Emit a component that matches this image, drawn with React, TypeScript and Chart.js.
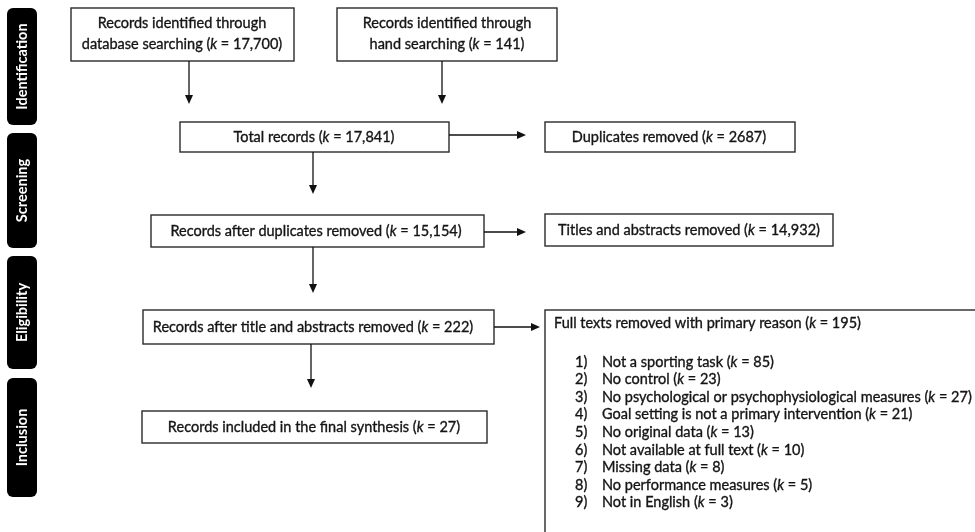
import React, { useEffect, useRef } from "react";
import { Chart, registerables } from "chart.js";

Chart.register(...registerables);

// ---- content ----
const stageNames = ["Identification", "Screening", "Eligibility", "Inclusion"];
const recordLabels = [
  "Records identified through\ndatabase searching",
  "Records identified through\nhand searching",
  "Total records",
  "Duplicates removed",
  "Records after duplicates removed",
  "Titles and abstracts removed",
  "Records after title and abstracts removed",
  "Records included in the final synthesis",
];
const recordCounts = ["17,700", "141", "17,841", "2687", "15,154", "14,932", "222", "27"];
const removedTitle = "Full texts removed with primary reason";
const removedCount = "195";
const reasonLabels = [
  "Not a sporting task",
  "No control",
  "No psychological or psychophysiological measures",
  "Goal setting is not a primary intervention",
  "No original data",
  "Not available at full text",
  "Missing data",
  "No performance measures",
  "Not in English",
];
const reasonCounts = ["85", "23", "27", "21", "13", "10", "8", "5", "3"];

// ---- layout (diagram coordinates) ----
const W = 975;
const H = 532;
const stageBands = [
  [8, 125],
  [133, 248],
  [256, 369],
  [378, 497],
];
const stageX = [7, 37];
const boxes = [
  { x0: 71, y0: 8, x1: 294, y1: 61, tx: 182, ty: [23, 44] },
  { x0: 337, y0: 8, x1: 557, y1: 61, tx: 447, ty: [23, 44] },
  { x0: 180, y0: 122, x1: 449, y1: 152, tx: 314, ty: [137] },
  { x0: 545, y0: 122, x1: 795, y1: 152, tx: 669, ty: [137] },
  { x0: 151, y0: 215, x1: 484, y1: 247, tx: 316, ty: [231] },
  { x0: 545, y0: 214, x1: 833, y1: 246, tx: 689, ty: [230] },
  { x0: 143, y0: 310, x1: 494, y1: 344, tx: 313, ty: [327] },
  { x0: 142, y0: 411, x1: 487, y1: 443, tx: 314, ty: [427] },
];
const removedBox = { x0: 545, y0: 310, x1: 990, y1: 545 };
const removedTitlePos = { x: 554, y: 323 };
const reasonNumX = 575;
const reasonTextX = 602;
const reasonY0 = 362;
const reasonDY = 17.6;
const arrows = [
  [189, 61, 189, 104],
  [442, 61, 442, 104],
  [449, 135, 526, 135],
  [313, 152, 313, 194],
  [484, 232, 526, 232],
  [313, 247, 313, 293],
  [494, 327, 540, 327],
  [311, 344, 311, 388],
];

const FONT = "Lato";
const FS = 14.5;
const INK = "#151515";

type Seg = { t: string; it?: boolean };

function kSegs(prefix: string, count: string): Seg[] {
  return [
    { t: prefix + " (" },
    { t: "k", it: true },
    { t: " = " + count + ")" },
  ];
}

function drawSegs(ctx: CanvasRenderingContext2D, segs: Seg[], x: number, y: number, align: "left" | "center", size: number) {
  const fonts = segs.map((s) => `${s.it ? "italic " : ""}${size}px ${FONT}`);
  let total = 0;
  const widths = segs.map((s, i) => {
    ctx.font = fonts[i];
    const w = ctx.measureText(s.t).width;
    total += w;
    return w;
  });
  let cx = align === "center" ? x - total / 2 : x;
  ctx.textBaseline = "middle";
  ctx.textAlign = "left";
  ctx.strokeStyle = INK;
  ctx.lineWidth = 0.35;
  segs.forEach((s, i) => {
    ctx.font = fonts[i];
    ctx.fillText(s.t, cx, y);
    ctx.strokeText(s.t, cx, y);
    cx += widths[i];
  });
}

const flowPlugin = {
  id: "flow",
  afterDraw(chart: any) {
    const ctx: CanvasRenderingContext2D = chart.ctx;
    const xs = chart.scales.x;
    const ys = chart.scales.y;
    const X = (v: number) => xs.getPixelForValue(v);
    const Y = (v: number) => ys.getPixelForValue(v);
    ctx.save();

    // stage bars
    stageNames.forEach((name, i) => {
      const [a, b] = stageBands[i];
      const x0 = X(stageX[0]);
      const x1 = X(stageX[1]);
      const y0 = Y(a);
      const y1 = Y(b);
      ctx.fillStyle = "#000";
      ctx.beginPath();
      (ctx as any).roundRect(x0, y0, x1 - x0, y1 - y0, 6);
      ctx.fill();
      ctx.save();
      ctx.translate((x0 + x1) / 2, (y0 + y1) / 2);
      ctx.rotate(-Math.PI / 2);
      ctx.fillStyle = "#fff";
      ctx.font = `bold 14.5px ${FONT}`;
      ctx.textAlign = "center";
      ctx.textBaseline = "middle";
      ctx.fillText(name, 0, 0);
      ctx.restore();
    });

    // boxes
    boxes.forEach((bx, i) => {
      ctx.strokeStyle = "#2a2a2a";
      ctx.lineWidth = 1.4;
      ctx.strokeRect(X(bx.x0), Y(bx.y0), X(bx.x1) - X(bx.x0), Y(bx.y1) - Y(bx.y0));
      const lines = recordLabels[i].split("\n");
      lines.forEach((ln, j) => {
        const segs: Seg[] = j === lines.length - 1 ? kSegs(ln, recordCounts[i]) : [{ t: ln }];
        ctx.fillStyle = INK;
        drawSegs(ctx, segs, X(bx.tx), Y(bx.ty[j]), "center", FS);
      });
    });

    // removed full texts box
    ctx.strokeStyle = "#2a2a2a";
    ctx.lineWidth = 1.4;
    ctx.strokeRect(X(removedBox.x0), Y(removedBox.y0), X(removedBox.x1) - X(removedBox.x0), Y(removedBox.y1) - Y(removedBox.y0));
    ctx.fillStyle = INK;
    drawSegs(ctx, kSegs(removedTitle, removedCount), X(removedTitlePos.x), Y(removedTitlePos.y), "left", FS);
    reasonLabels.forEach((r, i) => {
      const y = Y(reasonY0 + i * reasonDY);
      drawSegs(ctx, [{ t: `${i + 1})` }], X(reasonNumX), y, "left", FS);
      drawSegs(ctx, kSegs(r, reasonCounts[i]), X(reasonTextX), y, "left", FS);
    });

    // arrows
    ctx.strokeStyle = "#111";
    ctx.fillStyle = "#111";
    ctx.lineWidth = 1.3;
    arrows.forEach(([a, b, c, d]) => {
      const x0 = X(a), y0 = Y(b), x1 = X(c), y1 = Y(d);
      const ang = Math.atan2(y1 - y0, x1 - x0);
      const L = 9, hw = 4;
      const bxp = x1 - L * Math.cos(ang);
      const byp = y1 - L * Math.sin(ang);
      ctx.beginPath();
      ctx.moveTo(x0, y0);
      ctx.lineTo(bxp, byp);
      ctx.stroke();
      ctx.beginPath();
      ctx.moveTo(x1, y1);
      ctx.lineTo(bxp + hw * Math.sin(ang), byp - hw * Math.cos(ang));
      ctx.lineTo(bxp - hw * Math.sin(ang), byp + hw * Math.cos(ang));
      ctx.closePath();
      ctx.fill();
    });

    ctx.restore();
  },
};

export default function App() {
  const ref = useRef<HTMLCanvasElement | null>(null);
  useEffect(() => {
    if (!ref.current) return;
    const chart = new Chart(ref.current, {
      type: "scatter",
      data: { datasets: [{ data: [], pointRadius: 0 }] },
      options: {
        animation: false,
        responsive: false,
        maintainAspectRatio: false,
        layout: { padding: 0 },
        plugins: { legend: { display: false }, tooltip: { enabled: false } },
        scales: {
          x: { type: "linear", min: 0, max: W, display: false },
          y: { type: "linear", min: 0, max: H, reverse: true, display: false },
        },
      },
      plugins: [flowPlugin],
    });
    return () => chart.destroy();
  }, []);
  return (
    <div style={{ position: "fixed", left: 0, top: 0, width: W, height: H, background: "#fff" }}>
      <canvas ref={ref} width={W} height={H} style={{ width: W, height: H }} />
    </div>
  );
}
